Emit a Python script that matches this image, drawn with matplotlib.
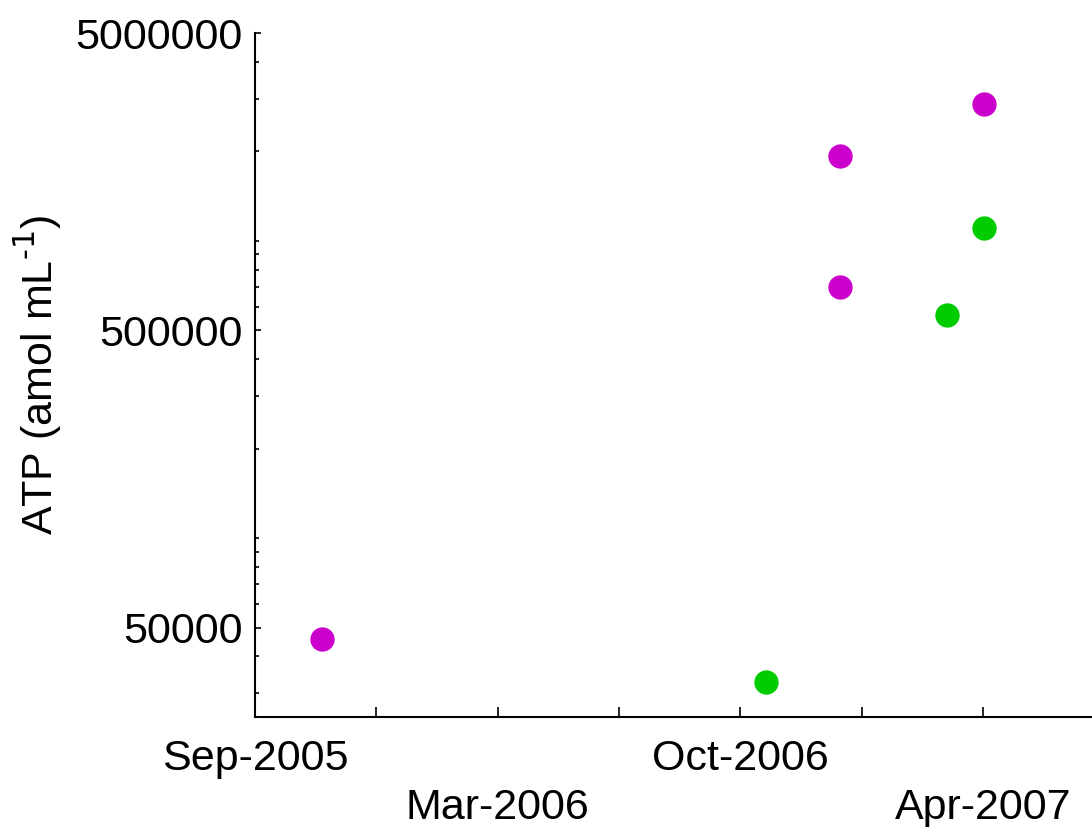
import datetime as dt

import matplotlib
matplotlib.use("Agg")
import matplotlib.pyplot as plt
import matplotlib.dates as mdates
from matplotlib.ticker import LogLocator, FixedLocator, NullFormatter

plt.rcParams["font.family"] = ["Liberation Sans", "DejaVu Sans"]
plt.rcParams["mathtext.default"] = "regular"

# Data
magentaDates = ["2005-10-26", "2006-12-22", "2006-12-22", "2007-04-19"]
magentaATP = [45600, 1930000, 697000, 2890000]
greenDates = ["2006-10-23", "2007-03-20", "2007-04-19"]
greenATP = [32700, 562000, 1108000]

tickLabels = ["Sep-2005", "", "\nMar-2006", "", "Oct-2006", "", "\nApr-2007"]
yMajor = [50000, 500000, 5000000]
yLabels = ["50000", "500000", "5000000"]

startDate = dt.date(2005, 9, 1)
tickStep_days = 99
span_days = 683


def toNum(dates):
    return [mdates.date2num(dt.date.fromisoformat(d)) for d in dates]


fig = plt.figure(figsize=(10.92, 8.27), dpi=100)
ax = fig.add_axes([255 / 1092, 110 / 827, 837 / 1092, 684 / 827])

ax.plot(toNum(magentaDates), magentaATP, "o", color="#CC00CC", markersize=17.5, markeredgewidth=0)
ax.plot(toNum(greenDates), greenATP, "o", color="#00CC00", markersize=17.5, markeredgewidth=0)

ax.set_yscale("log")
ax.set_ylim(25000, 5000000)
x0 = mdates.date2num(startDate)
ax.set_xlim(x0, x0 + span_days)

xticks = [x0 + i * tickStep_days for i in range(len(tickLabels))]
ax.set_xticks(xticks)
ax.set_xticklabels(tickLabels, fontsize=31)

ax.yaxis.set_major_locator(FixedLocator(yMajor))
ax.set_yticklabels(yLabels, fontsize=31)
ax.yaxis.set_minor_locator(LogLocator(base=10, subs=range(1, 10)))
ax.yaxis.set_minor_formatter(NullFormatter())

ax.set_ylabel(r"ATP (amol mL$^{\text{-1}}$)", fontsize=31, labelpad=8)

ax.spines["top"].set_visible(False)
ax.spines["right"].set_visible(False)
for s in ("left", "bottom"):
    ax.spines[s].set_linewidth(1.5)

ax.tick_params(axis="both", which="both", direction="in", width=1.2, color="black")
ax.tick_params(axis="x", which="major", length=7, pad=16)
ax.tick_params(axis="y", which="major", length=4, pad=9)
ax.tick_params(axis="y", which="minor", length=3)
for lab in ax.get_xticklabels():
    lab.set_linespacing(1.28)

fig.savefig("out.png", dpi=100)
